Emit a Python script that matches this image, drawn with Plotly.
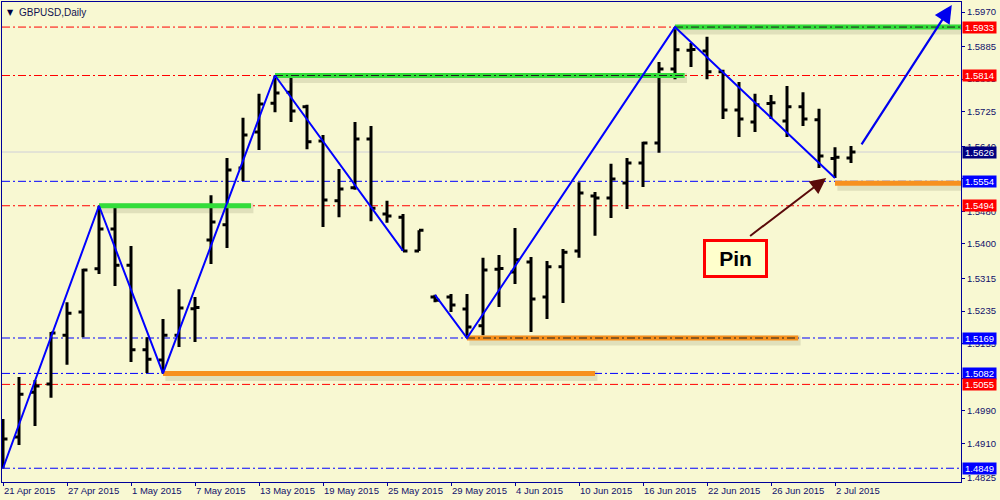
import plotly.graph_objects as go

# ---------------- data ----------------
dates = ["21 Apr 2015", "22 Apr 2015", "23 Apr 2015", "24 Apr 2015", "27 Apr 2015",
         "28 Apr 2015", "29 Apr 2015", "30 Apr 2015", "1 May 2015", "4 May 2015",
         "5 May 2015", "6 May 2015", "7 May 2015", "8 May 2015", "11 May 2015",
         "12 May 2015", "13 May 2015", "14 May 2015", "15 May 2015", "18 May 2015",
         "19 May 2015", "20 May 2015", "21 May 2015", "22 May 2015", "25 May 2015",
         "26 May 2015", "27 May 2015", "28 May 2015", "29 May 2015", "1 Jun 2015",
         "2 Jun 2015", "3 Jun 2015", "4 Jun 2015", "5 Jun 2015", "8 Jun 2015",
         "9 Jun 2015", "10 Jun 2015", "11 Jun 2015", "12 Jun 2015", "15 Jun 2015",
         "16 Jun 2015", "17 Jun 2015", "18 Jun 2015", "19 Jun 2015", "22 Jun 2015",
         "23 Jun 2015", "24 Jun 2015", "25 Jun 2015", "26 Jun 2015", "29 Jun 2015",
         "30 Jun 2015", "1 Jul 2015", "2 Jul 2015", "3 Jul 2015"]

opens = [1.4895, 1.4926, 1.5036, 1.5056, 1.5176, 1.5233, 1.5339, 1.5437, 1.5348, 1.5140,
         1.5115, 1.5176, 1.5241, 1.5410, 1.5447, 1.5587, 1.5675, 1.5746, 1.5773, 1.5737,
         1.5653, 1.5506, 1.5538, 1.5658, 1.5474, 1.5466, 1.5383, 1.5270, 1.5270, 1.5240,
         1.5199, 1.5338, 1.5331, 1.5356, 1.5270, 1.5344, 1.5383, 1.5518, 1.5513, 1.5550,
         1.5599, 1.5648, 1.5830, 1.5876, 1.5874, 1.5823, 1.5729, 1.5700, 1.5745, 1.5702,
         1.5737, 1.5705, 1.5610, 1.5611]
highs = [1.4970, 1.5073, 1.5066, 1.5184, 1.5257, 1.5339, 1.5494, 1.5491, 1.5395, 1.5171,
         1.5216, 1.5289, 1.5270, 1.5520, 1.5611, 1.5710, 1.5769, 1.5814, 1.5808, 1.5742,
         1.5668, 1.5584, 1.5700, 1.5690, 1.5506, 1.5474, 1.5434, 1.5275, 1.5277, 1.5277,
         1.5366, 1.5373, 1.5439, 1.5368, 1.5358, 1.5388, 1.5552, 1.5528, 1.5597, 1.5611,
         1.5651, 1.5847, 1.5933, 1.5894, 1.5909, 1.5828, 1.5798, 1.5769, 1.5766, 1.5788,
         1.5773, 1.5732, 1.5638, 1.5641]
lows = [1.4849, 1.4906, 1.4953, 1.5022, 1.5103, 1.5171, 1.5326, 1.5297, 1.5110, 1.5083,
        1.5082, 1.5147, 1.5159, 1.5351, 1.5390, 1.5555, 1.5631, 1.5724, 1.5700, 1.5633,
        1.5442, 1.5466, 1.5533, 1.5456, 1.5452, 1.5383, 1.5383, 1.5257, 1.5233, 1.5169,
        1.5176, 1.5245, 1.5302, 1.5184, 1.5216, 1.5255, 1.5366, 1.5420, 1.5464, 1.5486,
        1.5540, 1.5624, 1.5805, 1.5835, 1.5805, 1.5707, 1.5663, 1.5675, 1.5707, 1.5663,
        1.5690, 1.5587, 1.5562, 1.5599]
closes = [1.4921, 1.5031, 1.5051, 1.5181, 1.5230, 1.5336, 1.5437, 1.5348, 1.5140, 1.5117,
          1.5176, 1.5243, 1.5244, 1.5454, 1.5582, 1.5668, 1.5744, 1.5771, 1.5727, 1.5651,
          1.5508, 1.5535, 1.5658, 1.5488, 1.5469, 1.5383, 1.5434, 1.5262, 1.5250, 1.5196,
          1.5336, 1.5340, 1.5361, 1.5265, 1.5344, 1.5380, 1.5525, 1.5513, 1.5560, 1.5599,
          1.5648, 1.5830, 1.5877, 1.5878, 1.5823, 1.5729, 1.5707, 1.5742, 1.5747, 1.5737,
          1.5707, 1.5616, 1.5613, 1.5626]

tick_dates = ["21 Apr 2015", "27 Apr 2015", "1 May 2015", "7 May 2015", "13 May 2015",
              "19 May 2015", "25 May 2015", "29 May 2015", "4 Jun 2015", "10 Jun 2015",
              "16 Jun 2015", "22 Jun 2015", "26 Jun 2015", "2 Jul 2015"]

price_ticks = [1.5970, 1.5885, 1.5805, 1.5725, 1.5640, 1.5560, 1.5480, 1.5400,
               1.5315, 1.5235, 1.5155, 1.5070, 1.4990, 1.4910, 1.4825]

level_prices = [1.5933, 1.5814, 1.5626, 1.5554, 1.5494, 1.5169, 1.5082, 1.5055, 1.4849]
level_kinds = ["red", "red", "current", "blue", "red", "blue", "blue", "red", "blue"]

zigzag_dates = ["21 Apr 2015", "29 Apr 2015", "5 May 2015", "14 May 2015", "26 May 2015", None,
                "28 May 2015", "1 Jun 2015", "18 Jun 2015", "2 Jul 2015"]
zigzag_prices = [1.4849, 1.5494, 1.5082, 1.5814, 1.5383, None,
                 1.5275, 1.5169, 1.5933, 1.5562]

green_starts = ["29 Apr 2015", "14 May 2015", "18 Jun 2015"]
green_lengths = [9.5, 25.6, None]          # None = runs to the right edge
green_prices = [1.5494, 1.5814, 1.5933]
green_dashed = [False, True, True]

orange_starts = ["5 May 2015", "1 Jun 2015", "2 Jul 2015"]
orange_lengths = [27.0, 20.7, None]
orange_prices = [1.5082, 1.5169, 1.5549]
orange_dashed = [False, True, False]

# ---------------- styling ----------------
BG = "#F8F8D2"
NAVY = "#000099"
TXT = "#10106A"
FONT = "Liberation Sans"
X_MIN, X_MAX = -0.0625, 59.875
Y_MIN, Y_MAX = 1.48152, 1.59946
PX = (Y_MAX - Y_MIN) / 480.0
DASHDOT = "8px,3px,2px,3px"

xi = list(range(len(dates)))
pos = {d: i for i, d in enumerate(dates)}

fig = go.Figure()

# level lines (behind everything)
for p, k in zip(level_prices, level_kinds):
    if k == "current":
        line = dict(color="#CFCFD8", width=1)
    else:
        line = dict(color="#FF0000" if k == "red" else "#0000FF", width=1, dash=DASHDOT)
    fig.add_shape(type="line", xref="paper", x0=0, x1=1, yref="y", y0=p, y1=p,
                  line=line, layer="below")


def add_thick(starts, lengths, prices, dashed, color):
    for s, ln, p, dsh in zip(starts, lengths, prices, dashed):
        x0 = pos[s]
        x1 = X_MAX if ln is None else x0 + ln
        # soft shadow
        fig.add_trace(go.Scatter(x=[x0 + 0.15, x1 + 0.15], y=[p - 2.5 * PX, p - 2.5 * PX],
                                 mode="lines", line=dict(color="rgba(60,60,40,0.13)", width=10),
                                 hoverinfo="skip", showlegend=False))
        fig.add_trace(go.Scatter(x=[x0, x1], y=[p, p], mode="lines",
                                 line=dict(color=color, width=5),
                                 hoverinfo="skip", showlegend=False))
        if dsh:
            fig.add_trace(go.Scatter(x=[x0, x1], y=[p, p], mode="lines",
                                     line=dict(color="#202020", width=1, dash=DASHDOT),
                                     hoverinfo="skip", showlegend=False))


add_thick(green_starts, green_lengths, green_prices, green_dashed, "#33DD3A")
add_thick(orange_starts, orange_lengths, orange_prices, orange_dashed, "#F7901E")

# price bars
fig.add_trace(go.Ohlc(x=xi, open=opens, high=highs, low=lows, close=closes,
                      increasing=dict(line=dict(color="#000000", width=3)),
                      decreasing=dict(line=dict(color="#000000", width=3)),
                      tickwidth=0.28, showlegend=False, hoverinfo="skip"))

# zigzag
fig.add_trace(go.Scatter(x=[pos[d] if d else None for d in zigzag_dates], y=zigzag_prices,
                         mode="lines", line=dict(color="#0000FF", width=2),
                         connectgaps=False, hoverinfo="skip", showlegend=False))

# level price labels on the right scale
for p, k in zip(level_prices, level_kinds):
    bg = {"red": "#FF0000", "blue": "#0000FF", "current": "#000080"}[k]
    fig.add_annotation(xref="paper", x=1, xanchor="left", xshift=1,
                       yref="y", y=p, yanchor="middle",
                       text=f"{p:.4f}", showarrow=False, bgcolor=bg,
                       font=dict(family=FONT, size=9.5, color="#FFFFFF"),
                       width=33, height=11, borderpad=0, align="center")

# title
fig.add_annotation(xref="paper", yref="paper", x=0, y=1, xanchor="left", yanchor="top",
                   xshift=3, yshift=-4, showarrow=False, text="▼",
                   font=dict(family="DejaVu Sans", size=8, color="#000040"))
fig.add_annotation(xref="paper", yref="paper", x=0, y=1, xanchor="left", yanchor="top",
                   xshift=15, yshift=-3, showarrow=False, text="GBPUSD,Daily",
                   font=dict(family=FONT, size=10, color="#101050"))

# projection arrow (blue)
fig.add_annotation(xref="x", yref="y", axref="x", ayref="y",
                   x=59.3, y=1.5987, ax=53.6, ay=1.5641, text="",
                   showarrow=True, arrowhead=2, arrowsize=1.6, arrowwidth=2.2,
                   arrowcolor="#0000EE", standoff=0, startstandoff=0)

# pin arrow (maroon)
fig.add_annotation(xref="x", yref="y", axref="x", ayref="y",
                   x=51.45, y=1.5562, ax=46.6, ay=1.5417, text="",
                   showarrow=True, arrowhead=2, arrowsize=1.6, arrowwidth=2,
                   arrowcolor="#5A0A0A", standoff=0, startstandoff=0)

# Pin box
fig.add_annotation(xref="x", yref="y", x=45.78, y=1.5364, text="<b>Pin</b>",
                   showarrow=False, bgcolor="#FFFFCC", bordercolor="#FF0000",
                   borderwidth=3, borderpad=0, width=59, height=33,
                   font=dict(family=FONT, size=21, color="#000000"))

fig.update_layout(
    width=1000, height=500,
    margin=dict(l=2, r=39, t=2, b=18, autoexpand=False),
    paper_bgcolor=BG, plot_bgcolor=BG,
    showlegend=False,
    xaxis=dict(range=[X_MIN, X_MAX], showgrid=False, zeroline=False, automargin=False,
               showline=True, linecolor=NAVY, linewidth=1, mirror=True,
               ticks="outside", ticklen=3, tickcolor=NAVY, tickangle=0,
               tickvals=[pos[d] for d in tick_dates], ticktext=tick_dates,
               ticklabelposition="outside right",
               tickfont=dict(family=FONT, size=9.5, color=TXT),
               rangeslider=dict(visible=False), fixedrange=True),
    yaxis=dict(range=[Y_MIN, Y_MAX], side="right", showgrid=False, zeroline=False,
               automargin=False,
               showline=True, linecolor=NAVY, linewidth=1, mirror=True,
               ticks="outside", ticklen=3, tickcolor=NAVY,
               tickvals=price_ticks, ticktext=[f"{v:.4f}" for v in price_ticks],
               tickfont=dict(family=FONT, size=9.5, color=TXT),
               fixedrange=True),
)

fig.write_html("out.html", config={"displayModeBar": False},
               post_script="document.body.style.margin='0';document.body.style.padding='0';"
                           "document.body.style.background='" + BG + "';")
